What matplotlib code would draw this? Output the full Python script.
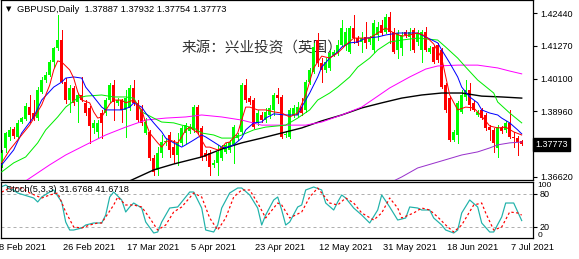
import matplotlib
matplotlib.use("Agg")
import matplotlib.pyplot as plt
from matplotlib.transforms import blended_transform_factory

# ---- daily candles, one per bar (bar index 0..130) ----
opens = [1.3712, 1.3765, 1.3804, 1.3832, 1.3804, 1.3857, 1.3868, 1.3910, 1.3889, 1.3871,
         1.3964, 1.4006, 1.4024, 1.4070, 1.4120, 1.4148, 1.3999, 1.3935, 1.3978, 1.3928,
         1.3953, 1.3925, 1.3907, 1.3836, 1.3822, 1.3889, 1.3889, 1.3935, 1.3988, 1.3925,
         1.3935, 1.3900, 1.3907, 1.3978, 1.3925, 1.3900, 1.3818, 1.3822, 1.3729, 1.3687,
         1.3747, 1.3786, 1.3811, 1.3768, 1.3740, 1.3783, 1.3818, 1.3825, 1.3829, 1.3910,
         1.3836, 1.3747, 1.3747, 1.3705, 1.3712, 1.3729, 1.3751, 1.3758, 1.3776, 1.3800,
         1.3822, 1.3988, 1.3942, 1.3935, 1.3854, 1.3882, 1.3864, 1.3882, 1.3900, 1.3953,
         1.3946, 1.3811, 1.3804, 1.3882, 1.3882, 1.3910, 1.3900, 1.3999, 1.4035, 1.4148,
         1.4067, 1.4042, 1.4049, 1.4095, 1.4102, 1.4130, 1.4127, 1.4106, 1.4191, 1.4155,
         1.4141, 1.4159, 1.4141, 1.4113, 1.4166, 1.4201, 1.4177, 1.4230, 1.4177, 1.4113,
         1.4120, 1.4177, 1.4159, 1.4184, 1.4141, 1.4113, 1.4177, 1.4106, 1.4123, 1.4130,
         1.4113, 1.3988, 1.3942, 1.3793, 1.3811, 1.3893, 1.3946, 1.3971, 1.3925, 1.3882,
         1.3900, 1.3882, 1.3839, 1.3829, 1.3765, 1.3836, 1.3829, 1.3854, 1.3804, 1.3800,
         1.37887]
closes = [1.3747, 1.3818, 1.3829, 1.3807, 1.3854, 1.3871, 1.3914, 1.3882, 1.3868, 1.3971,
          1.4006, 1.4024, 1.4070, 1.4120, 1.4148, 1.3999, 1.3935, 1.3978, 1.3925, 1.3953,
          1.3935, 1.3889, 1.3843, 1.3854, 1.3854, 1.3854, 1.3935, 1.3988, 1.3928, 1.3935,
          1.3900, 1.3942, 1.3978, 1.3925, 1.3864, 1.3854, 1.3857, 1.3729, 1.3680, 1.3747,
          1.3786, 1.3790, 1.3758, 1.3740, 1.3783, 1.3836, 1.3846, 1.3839, 1.3910, 1.3822,
          1.3733, 1.3733, 1.3697, 1.3712, 1.3751, 1.3768, 1.3776, 1.3786, 1.3839, 1.3811,
          1.3988, 1.3935, 1.3928, 1.3839, 1.3889, 1.3864, 1.3893, 1.3907, 1.3953, 1.3942,
          1.3804, 1.3815, 1.3900, 1.3907, 1.3910, 1.3889, 1.3999, 1.4042, 1.4123, 1.4067,
          1.4042, 1.4070, 1.4102, 1.4106, 1.4130, 1.4191, 1.4177, 1.4191, 1.4155, 1.4138,
          1.4155, 1.4138, 1.4155, 1.4209, 1.4194, 1.4173, 1.4230, 1.4177, 1.4106, 1.4173,
          1.4166, 1.4166, 1.4177, 1.4113, 1.4173, 1.4177, 1.4113, 1.4120, 1.4070, 1.4077,
          1.3981, 1.3900, 1.3793, 1.3822, 1.3925, 1.3953, 1.3971, 1.3918, 1.3900, 1.3893,
          1.3871, 1.3836, 1.3829, 1.3783, 1.3839, 1.3825, 1.3854, 1.3804, 1.3800, 1.3786,
          1.37773]
highs = [1.3758, 1.3822, 1.3839, 1.3839, 1.3864, 1.3875, 1.3925, 1.3953, 1.3935, 1.3981,
         1.4017, 1.4035, 1.4077, 1.4123, 1.4237, 1.4184, 1.4013, 1.3988, 1.3985, 1.3960,
         1.4017, 1.3935, 1.3914, 1.3864, 1.3864, 1.3900, 1.3942, 1.3996, 1.4006, 1.3942,
         1.3939, 1.3971, 1.3988, 1.4006, 1.3935, 1.3918, 1.3871, 1.3829, 1.3740, 1.3768,
         1.3811, 1.3800, 1.3822, 1.3793, 1.3818, 1.3843, 1.3854, 1.3850, 1.3918, 1.3918,
         1.3843, 1.3758, 1.3758, 1.3722, 1.3776, 1.3776, 1.3783, 1.3793, 1.3846, 1.3818,
         1.3996, 1.4010, 1.3949, 1.3942, 1.3900, 1.3893, 1.3907, 1.3918, 1.3960, 1.3978,
         1.3953, 1.3825, 1.3907, 1.3918, 1.3928, 1.3942, 1.4006, 1.4049, 1.4138, 1.4173,
         1.4084, 1.4084, 1.4113, 1.4113, 1.4148, 1.4219, 1.4191, 1.4198, 1.4237, 1.4162,
         1.4177, 1.4212, 1.4162, 1.4219, 1.4212, 1.4219, 1.4240, 1.4248, 1.4191, 1.4184,
         1.4177, 1.4184, 1.4191, 1.4191, 1.4184, 1.4184, 1.4194, 1.4127, 1.4130, 1.4138,
         1.4120, 1.3996, 1.3949, 1.3829, 1.3932, 1.3971, 1.4006, 1.3996, 1.3932, 1.3900,
         1.3907, 1.3889, 1.3846, 1.3836, 1.3846, 1.3843, 1.3861, 1.3900, 1.3822, 1.3807,
         1.37932]
lows = [1.3697, 1.3751, 1.3793, 1.3800, 1.3797, 1.3854, 1.3864, 1.3857, 1.3864, 1.3864,
        1.3960, 1.3999, 1.4020, 1.4052, 1.4113, 1.3996, 1.3925, 1.3893, 1.3918, 1.3857,
        1.3932, 1.3882, 1.3783, 1.3818, 1.3804, 1.3800, 1.3882, 1.3928, 1.3864, 1.3918,
        1.3857, 1.3804, 1.3900, 1.3918, 1.3857, 1.3846, 1.3815, 1.3722, 1.3669, 1.3669,
        1.3733, 1.3776, 1.3733, 1.3712, 1.3705, 1.3776, 1.3783, 1.3818, 1.3822, 1.3815,
        1.3722, 1.3722, 1.3669, 1.3697, 1.3669, 1.3722, 1.3747, 1.3751, 1.3712, 1.3793,
        1.3815, 1.3928, 1.3921, 1.3836, 1.3846, 1.3857, 1.3857, 1.3871, 1.3882, 1.3925,
        1.3800, 1.3804, 1.3800, 1.3875, 1.3875, 1.3882, 1.3893, 1.3992, 1.4031, 1.4056,
        1.3999, 1.4035, 1.4042, 1.4091, 1.4095, 1.4127, 1.4113, 1.4102, 1.4138, 1.4130,
        1.4106, 1.4120, 1.4134, 1.4106, 1.4148, 1.4166, 1.4173, 1.4138, 1.4102, 1.4084,
        1.4095, 1.4159, 1.4113, 1.4106, 1.4130, 1.4070, 1.4109, 1.4102, 1.4067, 1.4070,
        1.3978, 1.3893, 1.3790, 1.3790, 1.3783, 1.3889, 1.3935, 1.3900, 1.3896, 1.3878,
        1.3868, 1.3829, 1.3793, 1.3751, 1.3733, 1.3818, 1.3822, 1.3800, 1.3768, 1.3740,
        1.37754]

# ---- moving averages at sample bars ----
red_x = [0, 2, 5, 7, 10, 12, 13, 14, 15, 17, 18, 19, 20, 22, 23, 24, 25, 27, 28, 30,
         31, 33, 35, 36, 37, 39, 40, 41, 42, 44, 45, 46, 47, 49, 50, 51, 52, 54, 55, 56,
         57, 59, 60, 61, 62, 64, 66, 68, 70, 72, 74, 76, 78, 80, 82, 84, 86, 88, 90, 92,
         94, 96, 98, 100, 102, 104, 106, 108, 110, 112, 114, 116, 118, 120, 122, 124, 126, 128, 130]
red_y = [1.3712, 1.3758, 1.3811, 1.3846, 1.3918, 1.3988, 1.4042, 1.4074, 1.4070, 1.4042,
         1.4013, 1.3964, 1.3935, 1.3925, 1.3893, 1.3871, 1.3875, 1.3921, 1.3935, 1.3935,
         1.3925, 1.3935, 1.3900, 1.3854, 1.3818, 1.3783, 1.3768, 1.3786, 1.3793, 1.3783,
         1.3804, 1.3829, 1.3839, 1.3818, 1.3793, 1.3768, 1.3768, 1.3758, 1.3765, 1.3783,
         1.3786, 1.3818, 1.3864, 1.3910, 1.3910, 1.3900, 1.3900, 1.3893, 1.3889, 1.3875,
         1.3889, 1.3953, 1.4049, 1.4091, 1.4084, 1.4102, 1.4130, 1.4155, 1.4155, 1.4155,
         1.4173, 1.4191, 1.4173, 1.4162, 1.4166, 1.4173, 1.4162, 1.4134, 1.4084, 1.3953,
         1.3900, 1.3910, 1.3907, 1.3878, 1.3843, 1.3836, 1.3839, 1.3822, 1.3811]

blue_x = [0, 3, 5, 8, 10, 13, 15, 16, 18, 20, 21, 23, 25, 26, 28, 30, 32, 33, 35, 36,
          38, 40, 41, 43, 45, 46, 48, 50, 51, 53, 55, 56, 58, 60, 61, 63, 65, 66, 68, 71,
          74, 75, 77, 79, 80, 82, 84, 85, 87, 89, 91, 94, 96, 99, 104, 106, 109, 110, 112, 114,
          115, 117, 119, 120, 122, 124, 125, 127, 129, 130]
blue_y = [1.3705, 1.3758, 1.3818, 1.3875, 1.3935, 1.3981, 1.3999, 1.4013, 1.4017, 1.4013,
          1.3981, 1.3946, 1.3910, 1.3900, 1.3900, 1.3900, 1.3910, 1.3925, 1.3910, 1.3889,
          1.3854, 1.3822, 1.3800, 1.3783, 1.3768, 1.3776, 1.3793, 1.3811, 1.3804, 1.3786,
          1.3768, 1.3765, 1.3776, 1.3800, 1.3829, 1.3854, 1.3857, 1.3871, 1.3886, 1.3882,
          1.3882, 1.3910, 1.3960, 1.4017, 1.4052, 1.4084, 1.4106, 1.4123, 1.4138, 1.4141,
          1.4155, 1.4159, 1.4166, 1.4173, 1.4173, 1.4159, 1.4138, 1.4113, 1.4067, 1.4017,
          1.3981, 1.3946, 1.3925, 1.3900, 1.3889, 1.3882, 1.3871, 1.3854, 1.3829, 1.3815]

green_x = [0, 3, 6, 9, 11, 14, 16, 19, 21, 25, 28, 31, 33, 35, 38, 40, 43, 45, 48, 50,
           53, 55, 58, 60, 63, 66, 71, 74, 77, 79, 82, 84, 87, 89, 92, 94, 97, 100, 104, 109,
           111, 114, 116, 119, 123, 124, 127, 130]
green_y = [1.3680, 1.3712, 1.3733, 1.3783, 1.3829, 1.3875, 1.3910, 1.3942, 1.3949, 1.3953,
           1.3946, 1.3946, 1.3942, 1.3893, 1.3871, 1.3857, 1.3854, 1.3846, 1.3836, 1.3818,
           1.3811, 1.3800, 1.3800, 1.3811, 1.3829, 1.3839, 1.3846, 1.3871, 1.3900, 1.3935,
           1.3960, 1.3981, 1.4017, 1.4052, 1.4084, 1.4113, 1.4141, 1.4148, 1.4155, 1.4148,
           1.4123, 1.4084, 1.4052, 1.4006, 1.3960, 1.3928, 1.3889, 1.3854]

magenta_x = [6, 12, 16, 21, 26, 31, 36, 41, 46, 50, 55, 60, 65, 70, 76, 80, 85, 90, 93, 97,
             102, 106, 109, 114, 119, 124, 127, 130]
magenta_y = [1.3648, 1.3705, 1.3740, 1.3776, 1.3811, 1.3839, 1.3864, 1.3871, 1.3875, 1.3882,
             1.3875, 1.3864, 1.3846, 1.3846, 1.3846, 1.3857, 1.3882, 1.3910, 1.3939, 1.3978,
             1.4017, 1.4045, 1.4056, 1.4059, 1.4059, 1.4049, 1.4038, 1.4028]

black_x = [32, 38, 43, 50, 55, 60, 65, 70, 75, 80, 85, 90, 95, 100, 105, 110, 115, 120, 125, 130]
black_y = [1.3648, 1.3687, 1.3708, 1.3733, 1.3761, 1.3783, 1.3800, 1.3818, 1.3836, 1.3861,
           1.3882, 1.3907, 1.3925, 1.3942, 1.3953, 1.3960, 1.3960, 1.3949, 1.3946, 1.3942]

purple_x = [98, 100, 104, 110, 115, 119, 122, 124, 127, 130]
purple_y = [1.3648, 1.3662, 1.3694, 1.3719, 1.3740, 1.3751, 1.3765, 1.3776, 1.3783, 1.3786]

# ---- stochastic (5,3,3) ----
k_x = [0, 1, 2, 4, 8, 9, 10, 12, 13, 15, 16, 17, 18, 20, 21, 23, 25, 26, 27, 28,
       30, 31, 32, 33, 35, 36, 38, 39, 40, 42, 44, 45, 47, 48, 50, 51, 53, 54, 55, 57,
       59, 60, 62, 64, 65, 66, 68, 69, 70, 71, 72, 74, 75, 76, 78, 80, 81, 83, 84, 85,
       86, 88, 90, 92, 94, 95, 97, 99, 101, 102, 104, 105, 107, 108, 110, 111, 113, 114, 115, 117,
       119, 120, 122, 123, 125, 126, 128, 130]
k_y = [93.3, 96.4, 91.5, 81.8, 72.7, 65.5, 74.5, 83.6, 87.3, 65.5, 29.1, 14.5, 14.5, 18.2, 23.6,
       27.3, 27.3, 41.8, 74.5, 83.6, 69.1, 47.3, 56.4, 63.6, 54.5, 29.1, 9.1, 10.9, 29.1, 54.5,
       56.4, 65.5, 83.6, 83.6, 54.5, 14.5, 10.9, 23.6, 54.5, 81.8, 90.9, 90.9, 78.2, 54.5, 23.6,
       41.8, 69.1, 74.5, 50.9, 23.6, 29.1, 56.4, 60.0, 87.3, 92.7, 87.3, 63.6, 50.9, 65.5, 78.2,
       72.7, 54.5, 41.8, 27.3, 50.9, 78.2, 56.4, 32.7, 36.4, 56.4, 54.5, 50.9, 50.9, 36.4, 23.6,
       14.5, 9.1, 14.5, 45.5, 69.1, 56.4, 27.3, 10.9, 10.9, 38.2, 63.6, 63.6, 31.68]
d_x = [0, 2, 5, 7, 10, 12, 14, 16, 18, 20, 22, 24, 25, 28, 29, 31, 33, 35, 37, 39,
       41, 43, 45, 48, 50, 52, 54, 56, 58, 60, 62, 64, 66, 69, 70, 72, 75, 77, 79, 80,
       82, 84, 86, 88, 90, 93, 95, 97, 99, 100, 103, 105, 107, 109, 111, 113, 115, 118, 120, 121,
       123, 125, 127, 129, 130]
d_y = [83.6, 90.9, 90.9, 81.8, 72.7, 78.2, 81.8, 47.3, 20.0, 18.2, 23.6, 27.3, 27.3, 60.0, 74.5,
       60.0, 60.0, 56.4, 36.4, 14.5, 23.6, 47.3, 56.4, 81.8, 74.5, 36.4, 14.5, 36.4, 74.5, 87.3,
       87.3, 63.6, 36.4, 63.6, 60.0, 36.4, 47.3, 74.5, 90.9, 81.8, 63.6, 60.0, 72.7, 63.6, 45.5,
       32.7, 45.5, 72.7, 54.5, 36.4, 45.5, 54.5, 50.9, 38.2, 23.6, 10.9, 23.6, 60.0, 63.6, 45.5,
       14.5, 20.0, 47.3, 45.5, 41.67]

price_ticks = [1.42440, 1.41270, 1.40100, 1.38960, 1.36620]
last_price = 1.37773
date_pos = [-1, 15, 31, 47, 63, 79, 95, 111, 127]
date_labels = ["8 Feb 2021", "26 Feb 2021", "17 Mar 2021", "5 Apr 2021", "23 Apr 2021",
               "12 May 2021", "31 May 2021", "18 Jun 2021", "7 Jul 2021"]

W, H = 579, 259
fig = plt.figure(figsize=(W / 100, H / 100), dpi=100)
fig.patch.set_facecolor("white")
ax = fig.add_axes([1 / W, 79 / H, 532 / W, 180 / H])
ax2 = fig.add_axes([1 / W, 21 / H, 532 / W, 56 / H])
txt = dict(family="Liberation Sans", color="black")
px = 0.72

for a in (ax, ax2):
    a.set_xlim(-0.175, 132.825)
    for s in a.spines.values():
        s.set_linewidth(0.9)
    a.set_xticks([])
    a.yaxis.tick_right()
    a.tick_params(axis="y", length=3, width=0.8, pad=2, labelsize=6.5)
    for lab in a.get_yticklabels():
        lab.set_family("Liberation Sans")
ax.set_ylim(1.36512, 1.42902)
ax2.set_ylim(0, 101.8)

# candles
idx = list(range(len(opens)))
cols = ["#00FF00" if c >= o else "#FF0000" for o, c in zip(opens, closes)]
ax.vlines(idx, lows, highs, colors=cols, linewidth=px, antialiased=False, zorder=2)
bottoms = [min(o, c) for o, c in zip(opens, closes)]
heights = [max(abs(c - o), 0.00036) for o, c in zip(opens, closes)]
ax.bar(idx, heights, bottom=bottoms, width=0.75, color=cols, linewidth=0,
       antialiased=False, zorder=3)

# moving averages
ax.plot(purple_x, purple_y, color="#9932CC", lw=px, zorder=4)
ax.plot(black_x, black_y, color="black", lw=px * 1.4, zorder=4)
ax.plot(magenta_x, magenta_y, color="#FF00FF", lw=px, zorder=4)
ax.plot(green_x, green_y, color="#00EE00", lw=px, zorder=4)
ax.plot(blue_x, blue_y, color="#0000FF", lw=px, zorder=4)
ax.plot(red_x, red_y, color="#FF0000", lw=px, zorder=4)

ax.set_yticks(price_ticks)
ax.set_yticklabels(["%.5f" % p for p in price_ticks])
trm = blended_transform_factory(ax.transAxes, ax.transData)
ax.text(1.004, last_price, "%.5f" % last_price, transform=trm, va="center", ha="left",
        fontsize=6.5, family="Liberation Sans", color="white",
        bbox=dict(boxstyle="square,pad=0.25", fc="black", ec="black"))

# header and watermark
fig.text(6 / W, 1 - 9 / H, "\u25bc", fontsize=5, family="DejaVu Sans", va="center")
fig.text(17 / W, 1 - 9 / H, "GBPUSD,Daily  1.37887 1.37932 1.37754 1.37773",
         fontsize=6.7, va="center", **txt)
ax.text(182 / W, 1 - 48 / H, "来源：兴业投资（英国）", transform=fig.transFigure,
        fontsize=10.5, family="Noto Sans CJK SC", color="#333333", va="center", zorder=1)

# stochastic panel
ax2.axhline(80, color="#B0B0B0", lw=px, ls=(0, (3, 3)))
ax2.axhline(20, color="#B0B0B0", lw=px, ls=(0, (3, 3)))
ax2.plot(k_x, k_y, color="#20B2AA", lw=px * 1.2)
ax2.plot(d_x, d_y, color="#FF0000", lw=px * 1.2, ls=(0, (2, 2)))
ax2.set_yticks([80, 20])
ax2.set_yticklabels(["80", "20"])
trs = blended_transform_factory(ax2.transAxes, ax2.transData)
ax2.text(1.008, 96, "100", transform=trs, va="center", ha="left", fontsize=6.0, **txt)
ax2.text(1.008, 5, "0", transform=trs, va="center", ha="left", fontsize=6.0, **txt)
ax2.text(5 / 532, 89, "Stoch(5,3,3) 31.6768 41.6718", transform=trs, va="center",
         ha="left", fontsize=6.7, **txt)

# date axis
trd = blended_transform_factory(ax2.transData, fig.transFigure)
for p, lab in zip(date_pos, date_labels):
    ax2.text(p + 0.3, 1 - 248 / H, lab, transform=trd, va="center", ha="left",
             fontsize=6.7, clip_on=False, **txt)

fig.savefig("out.png", dpi=100, facecolor="white")
